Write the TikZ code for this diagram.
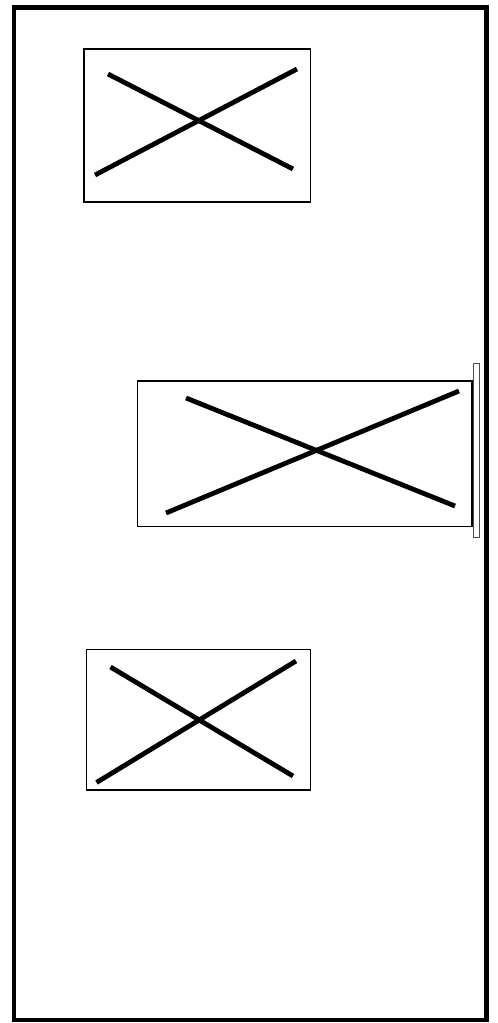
\documentclass[tikz,border=0pt]{standalone}
\begin{document}
\begin{tikzpicture}[
   x=0.03cm,
   y=-0.03cm,
   frame/.style={
      draw,
      line width=3.9pt
   },
   box/.style={
      draw,
      line width=1.6pt
   },
   cross/.style={
      draw,
      line width=4.1pt
   },
   bar/.style={
      draw=black!70,
      fill=white,
      line width=0.8pt
   }
]

   \useasboundingbox (0,0) rectangle (497,1023);

   % Outer frame
   \draw[frame] (14,7.5) rectangle (486.5,1020);

   % Upper box
   \draw[box] (84,49) rectangle (310.5,202);

   \draw[cross] (108,74) -- (293,169);
   \draw[cross] (95,175) -- (297,69);

   % Middle box
   \draw[box] (137.5,381) rectangle (472,526.5);

   \draw[cross] (186,398) -- (455,506);
   \draw[cross] (166,513) -- (459,391);

   % Side bar
   \draw[bar] (473.5,363.5) rectangle (479,537);

   % Lower box
   \draw[box] (86.5,649.5) rectangle (310.5,790);

   \draw[cross] (110.5,667) -- (293,776);
   \draw[cross] (96.5,782.5) -- (296,661);

\end{tikzpicture}
\end{document}
